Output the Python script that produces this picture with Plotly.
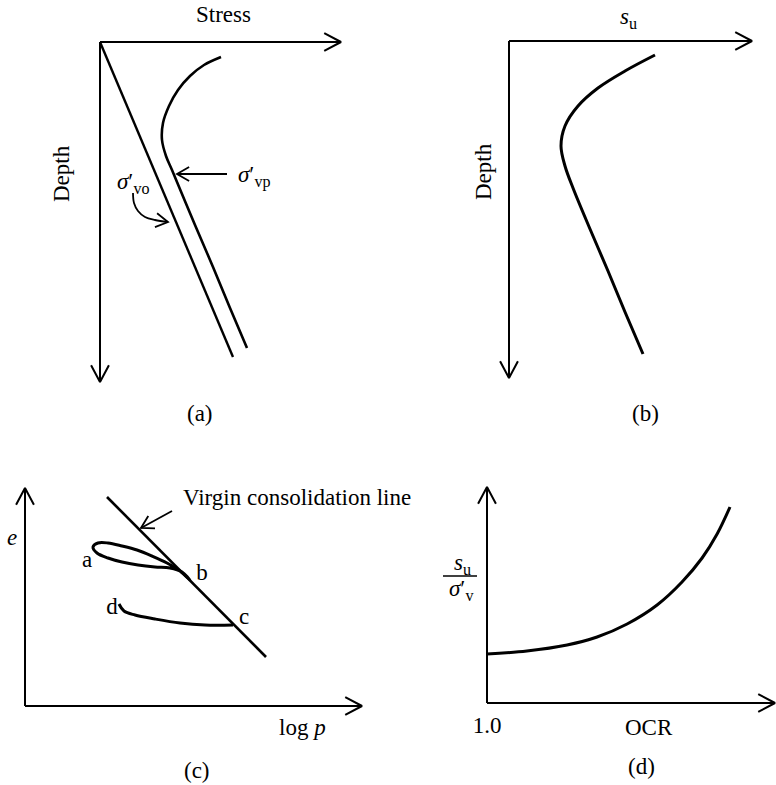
import math
import plotly.graph_objects as go

W, H = 776, 785
FONT = "Liberation Serif"
INK = "black"

# ---------------- data (each panel in its own schematic units) ----------------
# (a) effective overburden and preconsolidation stress with depth
a_vo_stress = [0, 133]
a_vo_depth = [0, 315]
a_vp_stress = [121, 104, 90, 78, 69, 63, 62, 66, 72, 95, 113, 130, 147]
a_vp_depth = [15, 23, 34, 48, 64, 81, 98, 114, 128, 183, 225, 266, 306]
a_vp_arrow_stress = [127, 77]
a_vp_arrow_depth = [132, 132]
a_vo_arrow_stress = [33, 34, 38, 45, 55, 68]
a_vo_arrow_depth = [151, 161, 169, 175, 178, 180]

# (b) undrained strength with depth
b_su = [146, 116, 89, 69, 56, 52, 56, 64, 81, 99, 116, 134]
b_depth = [14, 30, 47, 65, 85, 105, 125, 147, 188, 230, 271, 313]

# (c) void ratio vs log p
c_vcl_logp = [82, 241]
c_vcl_e = [209, 49]
c_vcl_arrow_logp = [147, 116]
c_vcl_arrow_e = [195, 178]
c_loop_logp = [165, 155, 142, 127, 112, 97, 83, 73, 68, 72, 83, 97, 113, 130, 145, 157, 165]
c_loop_e = [126, 135, 143, 150, 156, 160, 163, 163, 159, 153, 148, 144, 141, 139, 138, 134, 126]
c_cd_logp = [94, 99, 110, 130, 155, 180, 208]
c_cd_e = [102, 95, 91, 87, 83, 81, 81]
c_points = ["a", "b", "c", "d"]
c_points_logp = [62, 177, 219, 87]
c_points_e = [145, 132, 88, 98]

# (d) strength ratio vs OCR
d_ocr = [1.0, 2.33, 3.67, 4.67, 5.67, 6.67, 7.5, 8.17, 8.67, 9.1]
d_ratio = [0.49, 0.52, 0.58, 0.66, 0.79, 0.98, 1.21, 1.45, 1.69, 1.96]
d_tick_vals = [1.0]
d_tick_text = ["1.0"]

# ---------------- panel frames (axis origin, arrow tips, scale, padding) ----------------
PANELS = {
    "a": dict(ox=100, oy=42, xtip=341, ytip=382, kx=1.0, ky=1.0, x0=0.0, down=True,
              ax="x", ay="y", pad=(14, 14, 14, 14)),
    "b": dict(ox=509, oy=41, xtip=752, ytip=378, kx=1.0, ky=1.0, x0=0.0, down=True,
              ax="x2", ay="y2", pad=(14, 14, 14, 14)),
    "c": dict(ox=25, oy=706, xtip=362, ytip=488, kx=1.0, ky=1.0, x0=0.0, down=False,
              ax="x3", ay="y3", pad=(14, 14, 14, 14)),
    "d": dict(ox=487, oy=703, xtip=775, ytip=487, kx=30.0, ky=100.0, x0=1.0, down=False,
              ax="x4", ay="y4", pad=(14, 14, 14, 10)),
}


def frame(p):
    pl, pr, pt, pbm = p["pad"]
    left = max(min(p["ox"], p["xtip"]) - pl, 0)
    right = min(max(p["ox"], p["xtip"]) + pr, W)
    top = max(min(p["oy"], p["ytip"]) - pt, 0)
    bottom = min(max(p["oy"], p["ytip"]) + pbm, H)
    xdom = [left / W, right / W]
    ydom = [1 - bottom / H, 1 - top / H]
    xr = [p["x0"] + (left - p["ox"]) / p["kx"], p["x0"] + (right - p["ox"]) / p["kx"]]
    if p["down"]:
        yr = [(bottom - p["oy"]) / p["ky"], (top - p["oy"]) / p["ky"]]
    else:
        yr = [(p["oy"] - bottom) / p["ky"], (p["oy"] - top) / p["ky"]]
    return xdom, ydom, xr, yr


def px_to_data(p, dx, dy):
    return dx / p["kx"], (dy if p["down"] else -dy) / p["ky"]


def data_to_px(p, dx, dy):
    return dx * p["kx"], (dy if p["down"] else -dy) * p["ky"]


def chevron(p, tx, ty, sdx, sdy, length, ang):
    n = math.hypot(sdx, sdy)
    ux, uy = sdx / n, sdy / n
    xs, ys = [], []
    for s in (1, -1):
        th = math.radians(ang) * s
        bx = -(ux * math.cos(th) - uy * math.sin(th)) * length
        by = -(ux * math.sin(th) + uy * math.cos(th)) * length
        ddx, ddy = px_to_data(p, bx, by)
        xs.append(tx + ddx)
        ys.append(ty + ddy)
    return [xs[0], tx, xs[1]], [ys[0], ty, ys[1]]


def line_trace(p, xs, ys, width, spline=False):
    return go.Scatter(
        x=xs, y=ys, mode="lines", xaxis=p["ax"], yaxis=p["ay"],
        line=dict(color=INK, width=width, shape="spline" if spline else "linear", smoothing=1.0),
        hoverinfo="skip", showlegend=False,
    )


def axes_trace(p):
    xt = p["x0"] + (p["xtip"] - p["ox"]) / p["kx"]
    yt = abs(p["ytip"] - p["oy"]) / p["ky"]
    hx, hy = chevron(p, xt, 0, 1, 0, 19, 28)
    vx, vy = chevron(p, p["x0"], yt, 0, 1 if p["down"] else -1, 19, 28)
    xs = [p["x0"], xt, None] + hx + [None, p["x0"], p["x0"], None] + vx
    ys = [0, 0, None] + hy + [None, 0, yt, None] + vy
    return line_trace(p, xs, ys, 2.0)


def arrow_traces(p, xs, ys, width, spline=False):
    sdx, sdy = data_to_px(p, xs[-1] - xs[-2], ys[-1] - ys[-2])
    hx, hy = chevron(p, xs[-1], ys[-1], sdx, sdy, 14, 30)
    return [line_trace(p, xs, ys, width, spline), line_trace(p, hx, hy, width)]


fig = go.Figure()
pa, pb, pc, pd = PANELS["a"], PANELS["b"], PANELS["c"], PANELS["d"]

for p in PANELS.values():
    fig.add_trace(axes_trace(p))

# (a)
fig.add_trace(line_trace(pa, a_vo_stress, a_vo_depth, 2.4))
fig.add_trace(line_trace(pa, a_vp_stress, a_vp_depth, 2.6, spline=True))
for t in arrow_traces(pa, a_vp_arrow_stress, a_vp_arrow_depth, 1.8):
    fig.add_trace(t)
for t in arrow_traces(pa, a_vo_arrow_stress, a_vo_arrow_depth, 1.8, spline=True):
    fig.add_trace(t)

# (b)
fig.add_trace(line_trace(pb, b_su, b_depth, 3.0, spline=True))

# (c)
fig.add_trace(line_trace(pc, c_vcl_logp, c_vcl_e, 2.6))
for t in arrow_traces(pc, c_vcl_arrow_logp, c_vcl_arrow_e, 1.8):
    fig.add_trace(t)
fig.add_trace(line_trace(pc, c_loop_logp, c_loop_e, 3.0, spline=True))
fig.add_trace(line_trace(pc, c_cd_logp, c_cd_e, 3.0, spline=True))
fig.add_trace(go.Scatter(
    x=c_points_logp, y=c_points_e, mode="text", text=c_points, xaxis="x3", yaxis="y3",
    textfont=dict(family=FONT, size=23, color=INK), hoverinfo="skip", showlegend=False,
))

# (d)
fig.add_trace(line_trace(pd, d_ocr, d_ratio, 3.0, spline=True))

# ---------------- layout ----------------
layout = dict(
    width=W, height=H, margin=dict(l=0, r=0, t=0, b=0, pad=0),
    paper_bgcolor="white", plot_bgcolor="rgba(0,0,0,0)",
    font=dict(family=FONT, size=23, color=INK), showlegend=False,
)
for i, (key, p) in enumerate(PANELS.items(), start=1):
    xdom, ydom, xr, yr = frame(p)
    sfx = "" if i == 1 else str(i)
    layout["xaxis" + sfx] = dict(domain=xdom, range=xr, anchor="y" + sfx, visible=False, fixedrange=True)
    layout["yaxis" + sfx] = dict(domain=ydom, range=yr, anchor="x" + sfx, visible=False, fixedrange=True)

layout["xaxis4"].update(
    visible=True, showgrid=False, zeroline=False, showline=False, ticks="",
    tickvals=d_tick_vals, ticktext=d_tick_text, ticklabelstandoff=-4,
    tickfont=dict(family=FONT, size=23, color=INK),
)


def P(x, y):
    return x / W, 1 - y / H


def label(text, x, y, size=23, angle=0, xanchor="center"):
    px, py = P(x, y)
    return dict(text=text, x=px, y=py, xref="paper", yref="paper", showarrow=False,
                xanchor=xanchor, yanchor="middle", textangle=angle,
                font=dict(family=FONT, size=size, color=INK))


annotations = [
    label("Stress", 224, 15),
    label("Depth", 62, 173, angle=-90),
    label("<i>σ</i>′<sub>vo</sub>", 115, 183, xanchor="left"),
    label("<i>σ</i>′<sub>vp</sub>", 236, 177, xanchor="left"),
    label("(a)", 200, 413),
    label("<i>s</i><sub>u</sub>", 628, 18),
    label("Depth", 484, 172, angle=-90),
    label("(b)", 645, 413),
    label("<i>e</i>", 12, 537),
    label("Virgin consolidation line", 181, 497, xanchor="left"),
    label("log <i>p</i>", 302, 727),
    label("(c)", 197, 770),
    label("<i>s</i><sub>u</sub>", 462, 564),
    label("<i>σ</i>′<sub>v</sub>", 461, 590),
    label("OCR", 649, 727),
    label("(d)", 641, 766),
]
layout["annotations"] = annotations

bx0, by0 = P(443, 576)
bx1, by1 = P(477, 576)
layout["shapes"] = [dict(type="line", xref="paper", yref="paper", x0=bx0, y0=by0, x1=bx1, y1=by1,
                         line=dict(color=INK, width=1.5))]

fig.update_layout(**layout)
fig.write_html("out.html")
